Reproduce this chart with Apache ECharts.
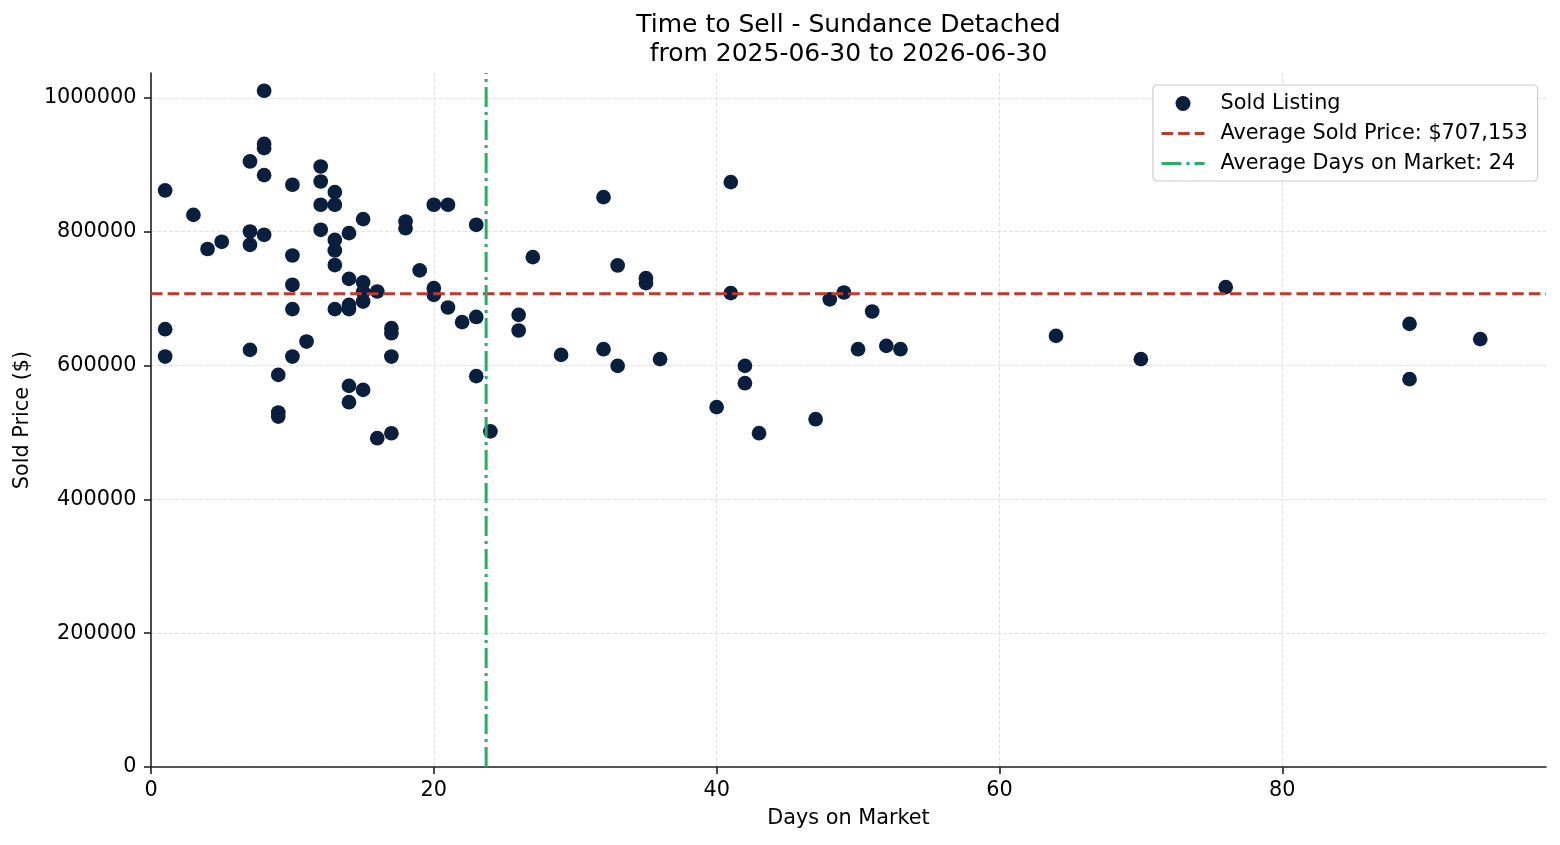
<!DOCTYPE html>
<html>
<head>
<meta charset="utf-8">
<script src="https://cdn.jsdelivr.net/npm/echarts@6/dist/echarts.min.js"></script>
<style>
html,body{margin:0;padding:0;background:#fff;}
#chart{width:1560px;height:845px;}
</style>
</head>
<body>
<div id="chart"></div>
<script>
// ---- data ----
const days = [
  1, 1, 1, 3, 4, 5, 7, 7, 7, 7,
  8, 8, 8, 8, 8, 9, 9, 9, 10, 10,
  10, 10, 10, 11, 12, 12, 12, 12, 13, 13,
  13, 13, 13, 13, 14, 14, 14, 14, 14, 14,
  15, 15, 15, 15, 15, 16, 16, 17, 17, 17,
  17, 18, 18, 19, 20, 20, 20, 21, 21, 22,
  23, 23, 23, 24, 26, 26, 27, 29, 32, 32,
  33, 33, 35, 35, 36, 40, 41, 41, 42, 42,
  43, 47, 48, 49, 50, 51, 52, 53, 64, 70,
  76, 89, 89, 94
];
const prices = [
  861500, 654200, 613300, 825000, 774000, 784800, 904800, 800200, 780300, 623300,
  1010500, 931000, 924700, 884400, 795200, 586000, 529600, 523600, 870000, 764300,
  720500, 684200, 613300, 635700, 897300, 874900, 840100, 802700, 859000, 840100,
  787700, 771800, 750000, 684200, 797700, 729400, 690600, 684200, 569500, 545100,
  818700, 724000, 710000, 695500, 563500, 710500, 491300, 655700, 648200, 613300,
  498700, 815100, 805100, 742000, 840100, 715500, 705500, 840100, 686600, 664700,
  810200, 672500, 584000, 501500, 675600, 652200, 761800, 615800, 851500, 624300,
  749400, 599400, 730400, 723000, 609400, 537700, 874000, 708100, 599400, 573500,
  498800, 519700, 698800, 709000, 624300, 680600, 629300, 624300, 644200, 609400,
  717000, 662200, 579500, 639300
];
const avgPrice = 707153;
const avgDays = 23.7;
const xTicks = [0, 20, 40, 60, 80];
const yTicks = [0, 200000, 400000, 600000, 800000, 1000000];
const xMax = 98.65;
const yMax = 1037000;
const titleText = 'Time to Sell - Sundance Detached\nfrom 2025-06-30 to 2026-06-30';
const nameScatter = 'Sold Listing';
const namePrice = 'Average Sold Price: $' + avgPrice.toLocaleString('en-US');
const nameDays = 'Average Days on Market: ' + Math.round(avgDays);

const FONT = 'DejaVu Sans';
const chart = echarts.init(document.getElementById('chart'), null, {renderer: 'canvas'});

const axisLineStyle = {show: true, lineStyle: {color: '#222', width: 1.6}};
const splitStyle = {show: true, lineStyle: {color: '#dadada', width: 0.8, type: [4, 2]}};
const nameStyle = {fontFamily: FONT, fontSize: 20.8, color: '#000'};

chart.setOption({
  animation: false,
  backgroundColor: '#fff',
  title: {
    text: titleText,
    left: 848.5,
    textAlign: 'center',
    top: 11,
    padding: 0,
    textStyle: {fontFamily: FONT, fontSize: 25, fontWeight: 'normal', color: '#000', lineHeight: 29}
  },
  grid: {left: 151, right: 14, top: 73, bottom: 78, containLabel: false},
  legend: {
    orient: 'vertical',
    left: 1153,
    top: 85,
    padding: [8, 10, 7, 7],
    itemWidth: 43,
    itemHeight: 15,
    itemGap: 9,
    backgroundColor: '#fff',
    borderColor: '#cccccc',
    borderWidth: 1.2,
    borderRadius: 4,
    lineStyle: {width: 3},
    textStyle: {fontFamily: FONT, fontSize: 20.8, color: '#000', lineHeight: 21, padding: [0, 0, 0, 11]},
    data: [
      {name: nameScatter},
      {name: namePrice, itemStyle: {opacity: 0}},
      {name: nameDays, itemStyle: {opacity: 0}}
    ]
  },
  xAxis: {
    type: 'value',
    min: 0,
    max: xMax,
    interval: 20,
    name: 'Days on Market',
    nameLocation: 'middle',
    nameGap: 41,
    nameTextStyle: nameStyle,
    axisLine: axisLineStyle,
    axisTick: {show: true, inside: false, length: 7, customValues: xTicks, lineStyle: {color: '#222', width: 1.6}},
    axisLabel: {customValues: xTicks, margin: 13, fontFamily: FONT, fontSize: 20.8, color: '#000', formatter: v => String(v)},
    splitLine: splitStyle
  },
  yAxis: {
    type: 'value',
    min: 0,
    max: yMax,
    interval: 200000,
    name: 'Sold Price ($)',
    nameLocation: 'middle',
    nameGap: 116,
    nameRotate: 90,
    nameTextStyle: nameStyle,
    axisLine: axisLineStyle,
    axisTick: {show: true, inside: false, length: 7, customValues: yTicks, lineStyle: {color: '#222', width: 1.6}},
    axisLabel: {customValues: yTicks, margin: 14.5, fontFamily: FONT, fontSize: 20.8, color: '#000', formatter: v => String(v)},
    splitLine: splitStyle
  },
  series: [
    {
      name: nameScatter,
      type: 'scatter',
      symbol: 'circle',
      symbolSize: 14.7,
      itemStyle: {color: '#0a1f3d', opacity: 1},
      data: days.map((d, i) => [d, prices[i]]),
      z: 2
    },
    {
      name: namePrice,
      type: 'line',
      symbol: 'none',
      silent: true,
      lineStyle: {color: '#c0392b', width: 3, type: [11.6, 5]},
      itemStyle: {color: '#c0392b'},
      data: [[0, avgPrice], [xMax, avgPrice]],
      z: 3
    },
    {
      name: nameDays,
      type: 'line',
      symbol: 'none',
      silent: true,
      lineStyle: {color: '#27ae60', width: 3, type: [20, 5, 3, 5]},
      itemStyle: {color: '#27ae60'},
      data: [[avgDays, 0], [avgDays, yMax]],
      z: 3
    }
  ]
});
</script>
</body>
</html>
